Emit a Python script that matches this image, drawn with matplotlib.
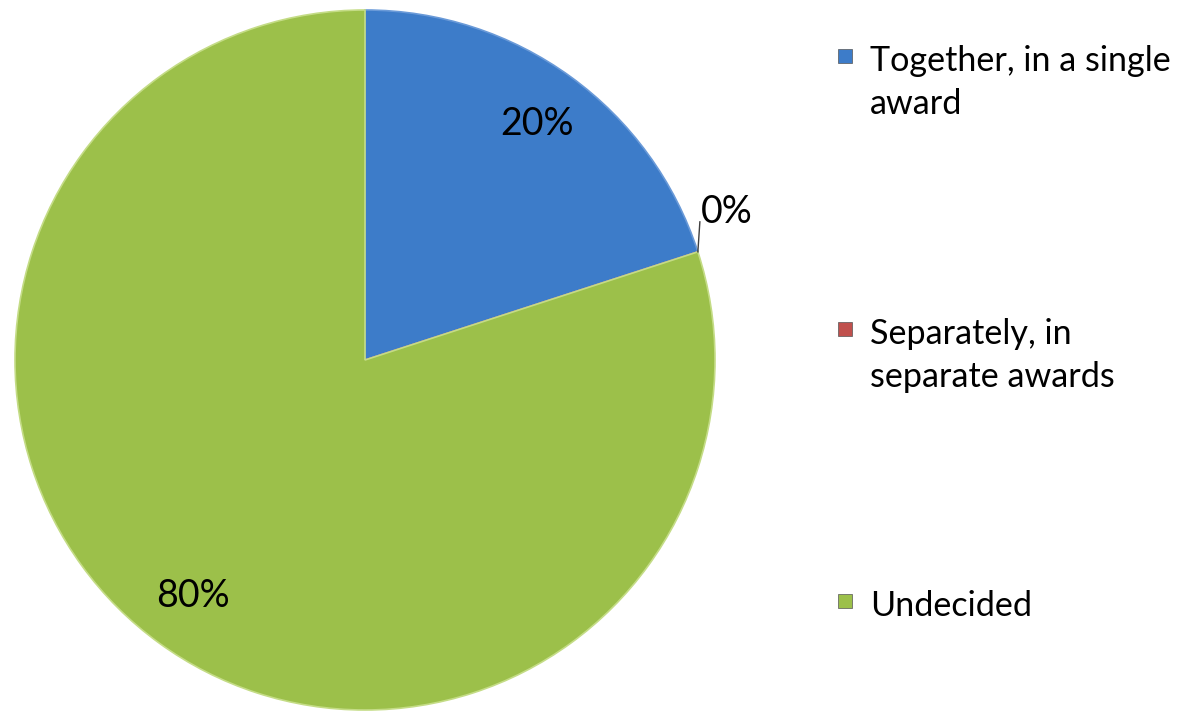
import numpy as np
import matplotlib
matplotlib.use("Agg")
import matplotlib.pyplot as plt
from matplotlib.patches import Rectangle

categories = ["Together, in a single\naward", "Separately, in\nseparate awards", "Undecided"]
values = [20, 0, 80]
pct_labels = ["20%", "0%", "80%"]
colors = ["#3d7cc9", "#c0504d", "#9cc04a"]
edge_colors = ["#6a9ad8", "#d07a77", "#c4dc86"]

plt.rcParams['font.family'] = ['Lato', 'DejaVu Sans']

W, H = 1178, 711
fig = plt.figure(figsize=(W / 100, H / 100), dpi=100)
ax = fig.add_axes([0, 0, 1, 1])

cx, cy, R = 365, 351, 350
wedges, _ = ax.pie(values, colors=colors, startangle=90, counterclock=False,
                   center=(cx, cy), radius=R, frame=True,
                   wedgeprops=dict(linewidth=1.2))
for w, ec in zip(wedges, edge_colors):
    w.set_edgecolor(ec)
ax.set_xlim(0, W)
ax.set_ylim(0, H)
ax.set_aspect('equal')
ax.axis('off')

fs = 27
for w, lab in zip(wedges, pct_labels):
    mid = np.deg2rad((w.theta1 + w.theta2) / 2)
    if w.theta2 - w.theta1 < 1:
        # leader line for the zero slice
        x0, y0 = cx + R * np.cos(mid), cy + R * np.sin(mid)
        ax.plot([x0, x0 + 2], [y0, y0 + 30], color='#404040', lw=1)
        ax.text(x0 + 29, y0 + 40, lab, ha='center', va='center', fontsize=fs, color='black')
    else:
        r = 0.835 * R
        ax.text(cx + r * np.cos(mid), cy + r * np.sin(mid), lab,
                ha='center', va='center', fontsize=fs, color='black')

# legend
lfs = 24.6
leg_x = 838
leg_tops = [711 - 45, 711 - 318, 711 - 590]
for cat, col, top in zip(categories, colors, leg_tops):
    ax.add_patch(Rectangle((leg_x, top - 18), 14, 14, facecolor=col,
                           edgecolor='#555555', linewidth=0.5))
    ax.text(leg_x + 32, top, cat, ha='left', va='top', fontsize=lfs,
            color='black', linespacing=1.42)

fig.savefig("out.png", dpi=100)
